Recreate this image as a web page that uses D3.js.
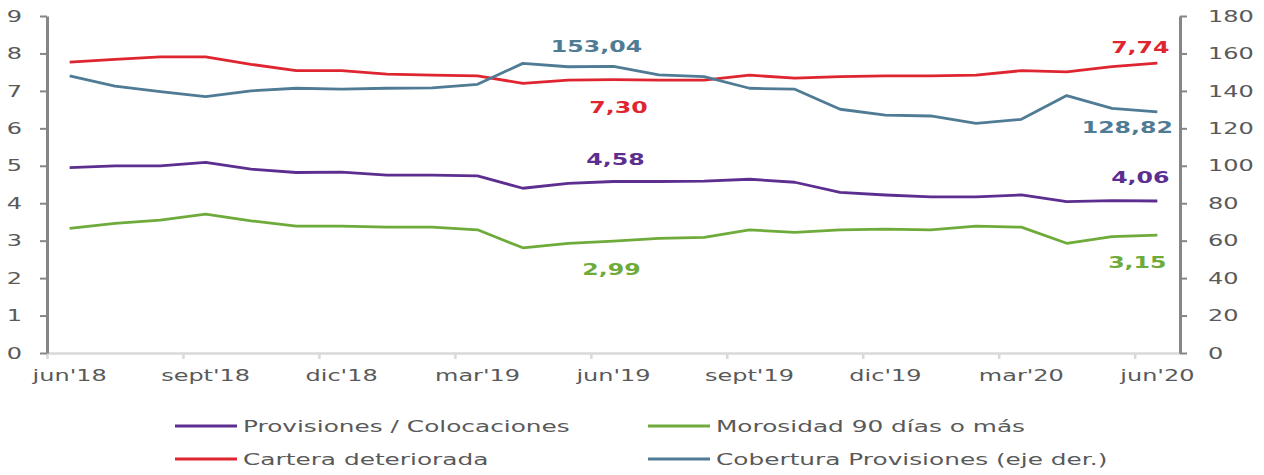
<!DOCTYPE html>
<html>
<head>
<meta charset="utf-8">
<script src="https://cdn.jsdelivr.net/npm/d3@7"></script>
<style>
  html, body { margin: 0; padding: 0; background: #fff; }
  svg { display: block; }
  text { font-family: "DejaVu Sans", Verdana, sans-serif; }
</style>
</head>
<body>
<svg id="chart" width="1264" height="475"></svg>
<script>
// ---------------- DATA ----------------
const months = ["jun'18","jul'18","ago'18","sept'18","oct'18","nov'18","dic'18","ene'19","feb'19","mar'19","abr'19","may'19",
                "jun'19","jul'19","ago'19","sept'19","oct'19","nov'19","dic'19","ene'20","feb'20","mar'20","abr'20","may'20","jun'20"];
const labelMonths = ["jun'18","sept'18","dic'18","mar'19","jun'19","sept'19","dic'19","mar'20","jun'20"];

const provisiones = [4.95,5.00,5.00,5.09,4.91,4.82,4.83,4.75,4.75,4.73,4.40,4.53,4.58,4.58,4.59,4.64,4.56,4.29,4.22,4.17,4.17,4.22,4.04,4.07,4.06];
const morosidad   = [3.33,3.46,3.55,3.71,3.53,3.39,3.39,3.36,3.36,3.29,2.81,2.93,2.99,3.06,3.09,3.29,3.22,3.29,3.31,3.29,3.39,3.36,2.93,3.11,3.15];
const cartera     = [7.77,7.84,7.91,7.91,7.71,7.54,7.54,7.45,7.42,7.40,7.20,7.29,7.30,7.29,7.29,7.42,7.34,7.38,7.40,7.40,7.42,7.54,7.51,7.65,7.74];
const cobertura   = [148.0,142.6,139.6,136.9,140.0,141.4,140.9,141.4,141.6,143.5,154.7,152.9,153.04,148.5,147.6,141.4,140.9,130.2,127.1,126.6,122.7,124.8,137.5,130.7,128.82];

const leftTicks  = [0,1,2,3,4,5,6,7,8,9];
const rightTicks = [0,20,40,60,80,100,120,140,160,180];

const seriesNames  = ["Provisiones / Colocaciones","Morosidad 90 días o más","Cartera deteriorada","Cobertura Provisiones (eje der.)"];
const seriesColors = ["#5c2e8f","#6eab3a","#de2530","#4f7b95"];

// annotated values: [series index, month index, text]
const annotations = [
  [3, 12, "153,04"], [2, 12, "7,30"], [0, 12, "4,58"], [1, 12, "2,99"],
  [2, 24, "7,74"], [3, 24, "128,82"], [0, 24, "4,06"], [1, 24, "3,15"]
];

// ---------------- LAYOUT ----------------
const SX = 1.5;                // horizontal text stretch of the original picture
const L = 47, R = 1180, T = 16, B = 353;
const svg = d3.select("#chart");
const textColor = "#595959";

const x = d3.scaleBand().domain(months).range([L, R]).padding(0);
const xi = d3.scaleLinear().domain([0, months.length]).range([L, R]);
const yL = d3.scaleLinear().domain([0, 9]).range([B, T]);
const yR = d3.scaleLinear().domain([0, 180]).range([B, T]);
const cx = m => x(m) + x.bandwidth() / 2;

function stretch(sel, sx) {
  sel.each(function () {
    const t = d3.select(this);
    const xx = +t.attr("x") || 0;
    t.attr("x", xx / sx).attr("transform", `scale(${sx},1)`);
  });
}

// bottom axis line + ticks at category boundaries
const gxTicks = svg.append("g").attr("transform", `translate(0,${B})`)
  .call(d3.axisBottom(xi).tickValues(d3.range(0, 25, 3)).tickSize(6).tickSizeOuter(0).tickFormat(""));
gxTicks.select(".domain").attr("stroke", "#d9d9d9").attr("stroke-width", 2.5);
gxTicks.selectAll(".tick line").attr("stroke", "#d9d9d9").attr("stroke-width", 2.5);

// bottom labels
const gxLab = svg.append("g").attr("transform", `translate(0,${B})`)
  .call(d3.axisBottom(x).tickValues(labelMonths).tickSize(0).tickPadding(17));
gxLab.select(".domain").remove();
gxLab.selectAll("text").attr("fill", textColor).attr("font-size", 16)
  .attr("font-family", "DejaVu Sans, Verdana, sans-serif");
stretch(gxLab.selectAll("text"), SX);

// left axis
const gyL = svg.append("g").attr("transform", `translate(${L},0)`)
  .call(d3.axisLeft(yL).tickValues(leftTicks).tickSize(7).tickSizeOuter(0).tickPadding(18));
gyL.select(".domain").attr("stroke", "#868686").attr("stroke-width", 3);
gyL.selectAll(".tick line").attr("stroke", "#868686").attr("stroke-width", 2);
gyL.selectAll("text").attr("fill", textColor).attr("font-size", 16)
  .attr("font-family", "DejaVu Sans, Verdana, sans-serif");
stretch(gyL.selectAll("text"), SX);

// right axis
const gyR = svg.append("g").attr("transform", `translate(${R},0)`)
  .call(d3.axisRight(yR).tickValues(rightTicks).tickSize(7).tickSizeOuter(0).tickPadding(21));
gyR.select(".domain").attr("stroke", "#868686").attr("stroke-width", 3);
gyR.selectAll(".tick line").attr("stroke", "#868686").attr("stroke-width", 2);
gyR.selectAll("text").attr("fill", textColor).attr("font-size", 16)
  .attr("font-family", "DejaVu Sans, Verdana, sans-serif");
stretch(gyR.selectAll("text"), SX);

// lines
const seriesData = [provisiones, morosidad, cartera, cobertura];
const scales = [yL, yL, yL, yR];
const drawOrder = [2, 3, 0, 1];
drawOrder.forEach(s => {
  const line = d3.line().x((d, i) => cx(months[i])).y(d => scales[s](d));
  svg.append("path").datum(seriesData[s]).attr("d", line)
    .attr("fill", "none").attr("stroke", seriesColors[s]).attr("stroke-width", 2.8)
    .attr("stroke-linejoin", "round");
});

// annotations (offsets from the annotated point)
const annOffsets = {
  "153,04": [-17, -14], "7,30": [5, 33], "4,58": [2, -17], "2,99": [-2, 34],
  "7,74": [-17, -10], "128,82": [-30, 21], "4,06": [-17, -18], "3,15": [-20, 33]
};
annotations.forEach(([s, i, txt]) => {
  const px = cx(months[i]), py = scales[s](seriesData[s][i]);
  const o = annOffsets[txt];
  const t = svg.append("text").attr("x", px + o[0]).attr("y", py + o[1])
    .attr("text-anchor", "middle").attr("font-size", 16).attr("font-weight", "bold")
    .attr("fill", seriesColors[s]).text(txt);
  stretch(t, 1.48);
});

// legend
const legendPos = [[175, 426], [648, 426], [175, 459], [648, 459]];
seriesNames.forEach((name, k) => {
  const [lx, ly] = legendPos[k];
  svg.append("line").attr("x1", lx).attr("x2", lx + 62).attr("y1", ly).attr("y2", ly)
    .attr("stroke", seriesColors[k]).attr("stroke-width", 2.8);
  const t = svg.append("text").attr("x", lx + 68).attr("y", ly).attr("dy", "0.36em")
    .attr("font-size", 16).attr("fill", textColor).text(name);
  stretch(t, 1.55);
});
</script>
</body>
</html>
